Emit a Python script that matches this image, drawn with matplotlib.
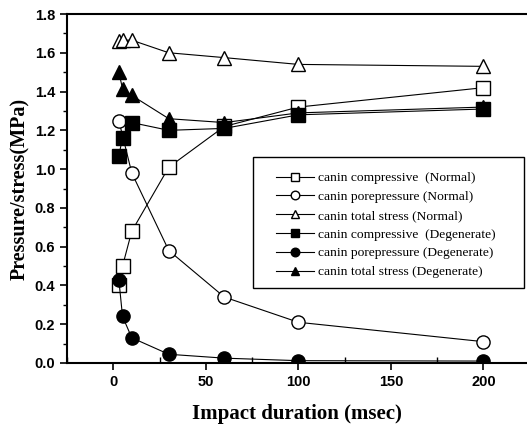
import matplotlib
matplotlib.use('Agg')
import matplotlib.pyplot as plt
from matplotlib.patches import Rectangle
from matplotlib.ticker import MultipleLocator, FormatStrFormatter

x = [3, 5, 10, 30, 60, 100, 200]

comp_normal = [0.40, 0.50, 0.68, 1.01, 1.22, 1.32, 1.42]
total_normal = [1.66, 1.665, 1.665, 1.60, 1.575, 1.54, 1.53]
comp_degen = [1.07, 1.16, 1.24, 1.20, 1.21, 1.28, 1.31]
pore_degen = [0.43, 0.24, 0.13, 0.045, 0.025, 0.012, 0.01]
total_degen = [1.50, 1.415, 1.38, 1.26, 1.24, 1.29, 1.32]

# pore pressure (Normal) has no point at x=5 in the figure
pore_normal_x = [3, 10, 30, 60, 100, 200]
pore_normal = [1.25, 0.98, 0.58, 0.34, 0.21, 0.11]

labels = ['canin compressive  (Normal)',
          'canin porepressure (Normal)',
          'canin total stress (Normal)',
          'canin compressive  (Degenerate)',
          'canin porepressure (Degenerate)',
          'canin total stress (Degenerate)']

W, H = 527, 426
fig = plt.figure(figsize=(W / 100, H / 100), dpi=100)
ax = fig.add_axes([67 / W, (H - 363) / H, (W - 67) / W, (363 - 14) / H])

kw = dict(color='black', lw=0.8, ms=9.5, mew=1.0)
ax.plot(x, comp_normal, marker='s', mfc='white', mec='black', label=labels[0], **kw)
ax.plot(pore_normal_x, pore_normal, marker='o', mfc='white', mec='black', label=labels[1], **kw)
ax.plot(x, total_normal, marker='^', mfc='white', mec='black', label=labels[2], **kw)
ax.plot(x, comp_degen, marker='s', mfc='black', mec='black', label=labels[3], **kw)
ax.plot(x, pore_degen, marker='o', mfc='black', mec='black', label=labels[4], **kw)
ax.plot(x, total_degen, marker='^', mfc='black', mec='black', label=labels[5], **kw)

ax.set_xlim(-25, 223.5)
ax.set_ylim(0, 1.8)
ax.xaxis.set_major_locator(MultipleLocator(50))
ax.xaxis.set_minor_locator(MultipleLocator(25))
ax.yaxis.set_major_locator(MultipleLocator(0.2))
ax.yaxis.set_minor_locator(MultipleLocator(0.1))
ax.yaxis.set_major_formatter(FormatStrFormatter('%.1f'))
ax.tick_params(axis='both', which='major', direction='out', length=5, width=1.2,
               labelsize=10.5)
ax.tick_params(axis='x', which='minor', direction='in', length=4, width=1)
ax.tick_params(axis='y', which='minor', direction='out', length=3, width=1)
ax.spines['right'].set_visible(False)
for s in ['left', 'bottom', 'top']:
    ax.spines[s].set_linewidth(1.5)
for lab in ax.get_xticklabels() + ax.get_yticklabels():
    lab.set_fontweight('bold')
    lab.set_family('Liberation Sans')

ax.set_xlabel('Impact duration (msec)', family='Liberation Serif', fontweight='bold',
              fontsize=15, labelpad=11)
ax.set_ylabel('Pressure/stress(MPa)', family='Liberation Serif', fontweight='bold',
              fontsize=14.5, labelpad=3)

# legend box drawn separately so its padding matches the original
fig.patches.append(Rectangle((253 / W, (H - 288) / H), (524 - 253) / W, (288 - 157) / H,
                             transform=fig.transFigure, fill=False, ec='black', lw=1.0))
leg = fig.legend(loc='upper left', bbox_to_anchor=(276 / W, (H - 172) / H),
                 prop={'family': 'Liberation Serif', 'size': 9.7},
                 frameon=False, handlelength=2.8, handletextpad=0.3,
                 markerscale=0.65, labelspacing=0.47, borderpad=0, borderaxespad=0)

fig.savefig('out.png', dpi=100)
